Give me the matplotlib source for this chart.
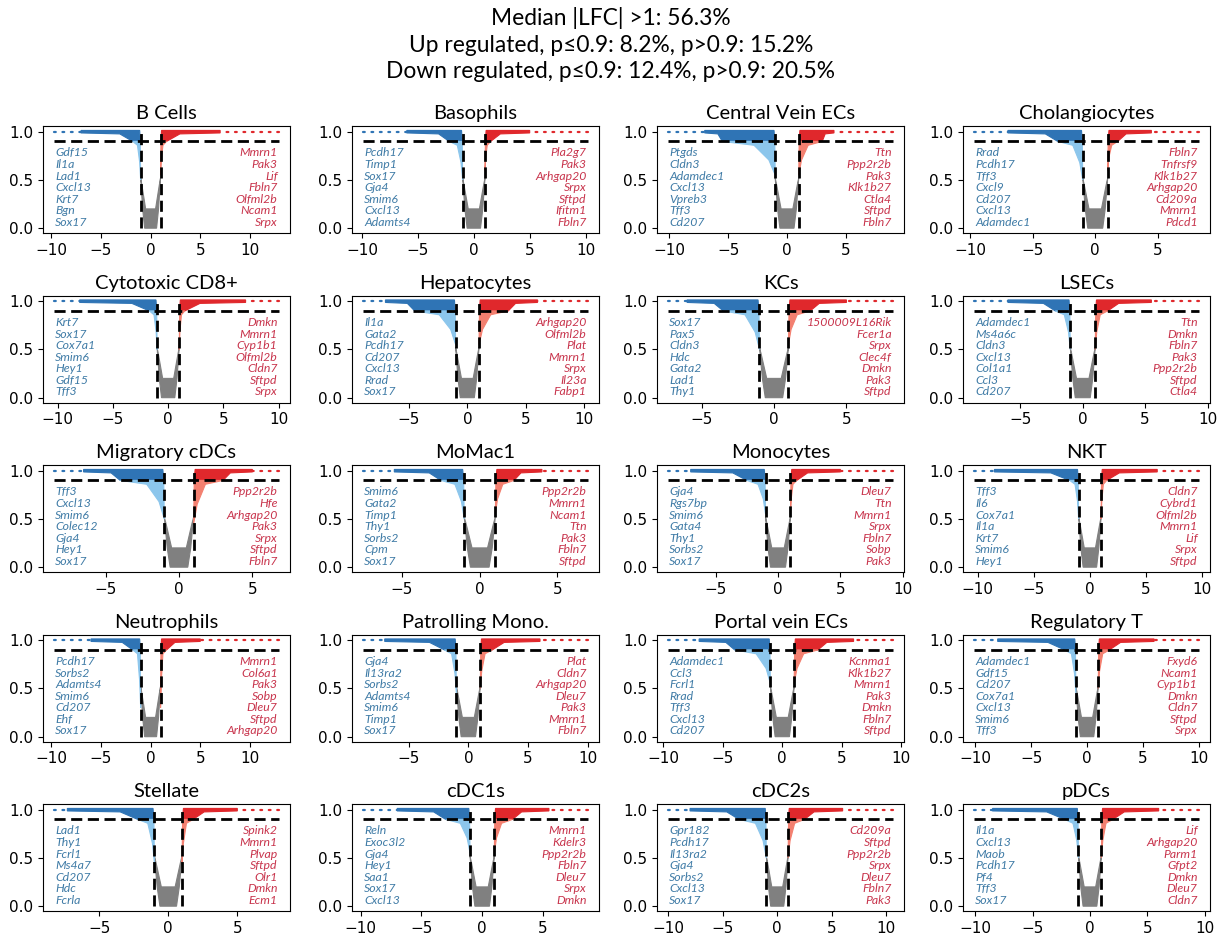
import matplotlib
matplotlib.use("Agg")
import matplotlib.pyplot as plt
import matplotlib.transforms as mtransforms

# panel names, in reading order
cell_types = ['B Cells', 'Basophils', 'Central Vein ECs', 'Cholangiocytes',
              'Cytotoxic CD8+', 'Hepatocytes', 'KCs', 'LSECs',
              'Migratory cDCs', 'MoMac1', 'Monocytes', 'NKT',
              'Neutrophils', 'Patrolling Mono.', 'Portal vein ECs', 'Regulatory T',
              'Stellate', 'cDC1s', 'cDC2s', 'pDCs']

# down regulated cloud (LFC < -1): farthest point, start of dense band,
# LFC where the cloud crosses p=0.9 and lowest p reached at LFC=-1
blue_far = [-9.7, -9.9, -10.1, -9.7, -10.3, -8.9, -7.3, -8.7, -8.5, -7.5,
            -8.8, -10.3, -9.7, -8.8, -9.6, -10.1, -8.25, -9.8, -10.0, -10.1]
blue_dense = [-7.0, -6.0, -7.0, -7.0, -8.0, -7.0, -6.0, -6.0, -6.5, -5.5,
              -7.0, -8.5, -6.0, -7.0, -7.0, -8.0, -7.3, -7.0, -8.0, -8.5]
blue_w9 = [-1.8, -2.2, -5.5, -3.0, -1.7, -4.5, -3.5, -2.2, -4.0, -2.5,
           -2.5, -1.8, -1.8, -2.0, -4.0, -2.0, -2.2, -3.0, -3.5, -2.2]
blue_low = [0.5, 0.5, 0.55, 0.5, 0.5, 0.55, 0.5, 0.5, 0.5, 0.5,
            0.55, 0.5, 0.3, 0.45, 0.55, 0.45, 0.45, 0.55, 0.5, 0.5]

# up regulated cloud (LFC > 1)
red_far = [12.9, 10.2, 9.0, 8.3, 10.0, 10.3, 8.2, 9.3, 6.8, 6.95,
           9.2, 9.7, 12.9, 10.0, 9.3, 10.0, 8.0, 8.7, 10.6, 9.5]
red_dense = [7.0, 5.0, 4.0, 4.5, 7.0, 6.0, 5.0, 5.5, 5.0, 4.0,
             5.0, 6.0, 5.0, 6.0, 6.0, 6.0, 5.0, 5.5, 6.0, 6.0]
red_w9 = [1.6, 1.5, 3.0, 1.8, 1.5, 3.5, 2.5, 2.0, 3.0, 2.2,
          1.5, 1.5, 1.6, 2.0, 3.0, 2.0, 1.8, 2.5, 2.5, 2.0]
red_low = [0.55, 0.6, 0.55, 0.6, 0.5, 0.55, 0.55, 0.5, 0.45, 0.55,
           0.55, 0.5, 0.3, 0.5, 0.55, 0.5, 0.45, 0.55, 0.5, 0.5]

# top genes written in each panel
down_genes = [
    ['Gdf15', 'Il1a', 'Lad1', 'Cxcl13', 'Krt7', 'Bgn', 'Sox17'],
    ['Pcdh17', 'Timp1', 'Sox17', 'Gja4', 'Smim6', 'Cxcl13', 'Adamts4'],
    ['Ptgds', 'Cldn3', 'Adamdec1', 'Cxcl13', 'Vpreb3', 'Tff3', 'Cd207'],
    ['Rrad', 'Pcdh17', 'Tff3', 'Cxcl9', 'Cd207', 'Cxcl13', 'Adamdec1'],
    ['Krt7', 'Sox17', 'Cox7a1', 'Smim6', 'Hey1', 'Gdf15', 'Tff3'],
    ['Il1a', 'Gata2', 'Pcdh17', 'Cd207', 'Cxcl13', 'Rrad', 'Sox17'],
    ['Sox17', 'Pax5', 'Cldn3', 'Hdc', 'Gata2', 'Lad1', 'Thy1'],
    ['Adamdec1', 'Ms4a6c', 'Cldn3', 'Cxcl13', 'Col1a1', 'Ccl3', 'Cd207'],
    ['Tff3', 'Cxcl13', 'Smim6', 'Colec12', 'Gja4', 'Hey1', 'Sox17'],
    ['Smim6', 'Gata2', 'Timp1', 'Thy1', 'Sorbs2', 'Cpm', 'Sox17'],
    ['Gja4', 'Rgs7bp', 'Smim6', 'Gata4', 'Thy1', 'Sorbs2', 'Sox17'],
    ['Tff3', 'Il6', 'Cox7a1', 'Il1a', 'Krt7', 'Smim6', 'Hey1'],
    ['Pcdh17', 'Sorbs2', 'Adamts4', 'Smim6', 'Cd207', 'Ehf', 'Sox17'],
    ['Gja4', 'Il13ra2', 'Sorbs2', 'Adamts4', 'Smim6', 'Timp1', 'Sox17'],
    ['Adamdec1', 'Ccl3', 'Fcrl1', 'Rrad', 'Tff3', 'Cxcl13', 'Cd207'],
    ['Adamdec1', 'Gdf15', 'Cd207', 'Cox7a1', 'Cxcl13', 'Smim6', 'Tff3'],
    ['Lad1', 'Thy1', 'Fcrl1', 'Ms4a7', 'Cd207', 'Hdc', 'Fcrla'],
    ['Reln', 'Exoc3l2', 'Gja4', 'Hey1', 'Saa1', 'Sox17', 'Cxcl13'],
    ['Gpr182', 'Pcdh17', 'Il13ra2', 'Gja4', 'Sorbs2', 'Cxcl13', 'Sox17'],
    ['Il1a', 'Cxcl13', 'Maob', 'Pcdh17', 'Pf4', 'Tff3', 'Sox17'],
]
up_genes = [
    ['Mmrn1', 'Pak3', 'Lif', 'Fbln7', 'Olfml2b', 'Ncam1', 'Srpx'],
    ['Pla2g7', 'Pak3', 'Arhgap20', 'Srpx', 'Sftpd', 'Ifitm1', 'Fbln7'],
    ['Ttn', 'Ppp2r2b', 'Pak3', 'Klk1b27', 'Ctla4', 'Sftpd', 'Fbln7'],
    ['Fbln7', 'Tnfrsf9', 'Klk1b27', 'Arhgap20', 'Cd209a', 'Mmrn1', 'Pdcd1'],
    ['Dmkn', 'Mmrn1', 'Cyp1b1', 'Olfml2b', 'Cldn7', 'Sftpd', 'Srpx'],
    ['Arhgap20', 'Olfml2b', 'Plat', 'Mmrn1', 'Srpx', 'Il23a', 'Fabp1'],
    ['1500009L16Rik', 'Fcer1a', 'Srpx', 'Clec4f', 'Dmkn', 'Pak3', 'Sftpd'],
    ['Ttn', 'Dmkn', 'Fbln7', 'Pak3', 'Ppp2r2b', 'Sftpd', 'Ctla4'],
    ['Ppp2r2b', 'Hfe', 'Arhgap20', 'Pak3', 'Srpx', 'Sftpd', 'Fbln7'],
    ['Ppp2r2b', 'Mmrn1', 'Ncam1', 'Ttn', 'Pak3', 'Fbln7', 'Sftpd'],
    ['Dleu7', 'Ttn', 'Mmrn1', 'Srpx', 'Fbln7', 'Sobp', 'Pak3'],
    ['Cldn7', 'Cybrd1', 'Olfml2b', 'Mmrn1', 'Lif', 'Srpx', 'Sftpd'],
    ['Mmrn1', 'Col6a1', 'Pak3', 'Sobp', 'Dleu7', 'Sftpd', 'Arhgap20'],
    ['Plat', 'Cldn7', 'Arhgap20', 'Dleu7', 'Pak3', 'Mmrn1', 'Fbln7'],
    ['Kcnma1', 'Klk1b27', 'Mmrn1', 'Pak3', 'Dmkn', 'Fbln7', 'Sftpd'],
    ['Fxyd6', 'Ncam1', 'Cyp1b1', 'Dmkn', 'Cldn7', 'Sftpd', 'Srpx'],
    ['Spink2', 'Mmrn1', 'Plvap', 'Sftpd', 'Olr1', 'Dmkn', 'Ecm1'],
    ['Mmrn1', 'Kdelr3', 'Ppp2r2b', 'Fbln7', 'Dleu7', 'Srpx', 'Dmkn'],
    ['Cd209a', 'Sftpd', 'Ppp2r2b', 'Srpx', 'Dleu7', 'Fbln7', 'Pak3'],
    ['Lif', 'Arhgap20', 'Parm1', 'Gfpt2', 'Dmkn', 'Dleu7', 'Cldn7'],
]

title_lines = ['Median |LFC| >1: 56.3%',
               'Up regulated, p\u22640.9: 8.2%, p>0.9: 15.2%',
               'Down regulated, p\u22640.9: 12.4%, p>0.9: 20.5%']

lfc_cut = 1.0
p_cut = 0.9

dark_blue = '#2f74b5'
light_blue = '#8cc6ec'
dark_red = '#e0282c'
light_red = '#f38070'
grey = '#808080'
blue_txt = '#3f7ba6'
red_txt = '#c8344c'


def draw_side(ax, s, far, dense, w9, low, dark, light):
    # s is -1 for the down regulated side and +1 for the up regulated side
    far, dense, w9 = abs(far), abs(dense), abs(w9)
    # sparse points along p=1
    ax.plot([s * far, s * dense], [1.0, 1.0], color=dark, lw=1.6,
            ls=(0, (0.8, 3.0)), dash_capstyle='round')
    # dense band, p>0.9
    mid = w9 + 0.25 * (dense - w9)
    ax.fill([s * dense, s * 1.1, s * 1.04, s * w9, s * mid, s * dense],
            [1.014, 1.014, p_cut, p_cut, 0.978, 0.988],
            color=dark, lw=0.8, ec=dark)
    # p<=0.9 part
    ax.fill([s * w9, s * 1.04, s * 1.0, s * (1 + 0.12 * (w9 - 1)), s * (1 + 0.4 * (w9 - 1))],
            [p_cut, p_cut, low, low + 0.45 * (p_cut - low), 0.86],
            color=light, lw=0.8, ec=light)


fig = plt.figure(figsize=(12.22, 9.38), dpi=100)

for k, line in enumerate(title_lines):
    fig.text(0.5, 1 - (18 + 27 * k) / 938, line, ha='center', va='center',
             fontsize=16.4, family='Lato')

lefts = [43, 352, 657, 963]
for i, name in enumerate(cell_types):
    r, c = divmod(i, 4)
    top = 126 + 169.5 * r
    ax = fig.add_axes([lefts[c] / 1222, 1 - (top + 107) / 938, 247 / 1222, 107 / 938])

    # genes with |LFC| <= 1
    ax.fill([-1.0, -0.8, -0.6, 0.6, 0.8, 1.0, 0.88, 0.5, -0.5, -0.88],
            [0.52, 0.2, 0.0, 0.0, 0.2, 0.52, 0.45, 0.2, 0.2, 0.45],
            color=grey, lw=0.8, ec=grey)
    draw_side(ax, -1, blue_far[i], blue_dense[i], blue_w9[i], blue_low[i], dark_blue, light_blue)
    draw_side(ax, 1, red_far[i], red_dense[i], red_w9[i], red_low[i], dark_red, light_red)

    ax.hlines(p_cut, blue_far[i], red_far[i], colors='k', linestyles=(0, (4, 2)), lw=2)
    ax.vlines([-lfc_cut, lfc_cut], 0, 1.03, colors='k', linestyles=(0, (4, 2)), lw=2)

    ax.margins(x=0.05)
    ax.set_ylim(-0.05, 1.06)
    ax.set_yticks([0.0, 0.5, 1.0])
    ax.tick_params(labelsize=11)
    ax.set_title(name, fontsize=14.5, family='Lato', pad=5)

    trans = mtransforms.blended_transform_factory(ax.transAxes, ax.transData)
    for j, g in enumerate(down_genes[i]):
        ax.text(0.05, 0.78 - 0.12 * j, g, transform=trans, ha='left', va='center',
                fontsize=8.8, style='italic', family='Lato', color=blue_txt)
    for j, g in enumerate(up_genes[i]):
        ax.text(0.95, 0.78 - 0.12 * j, g, transform=trans, ha='right', va='center',
                fontsize=8.8, style='italic', family='Lato', color=red_txt)

fig.savefig('out.png', dpi=100)
